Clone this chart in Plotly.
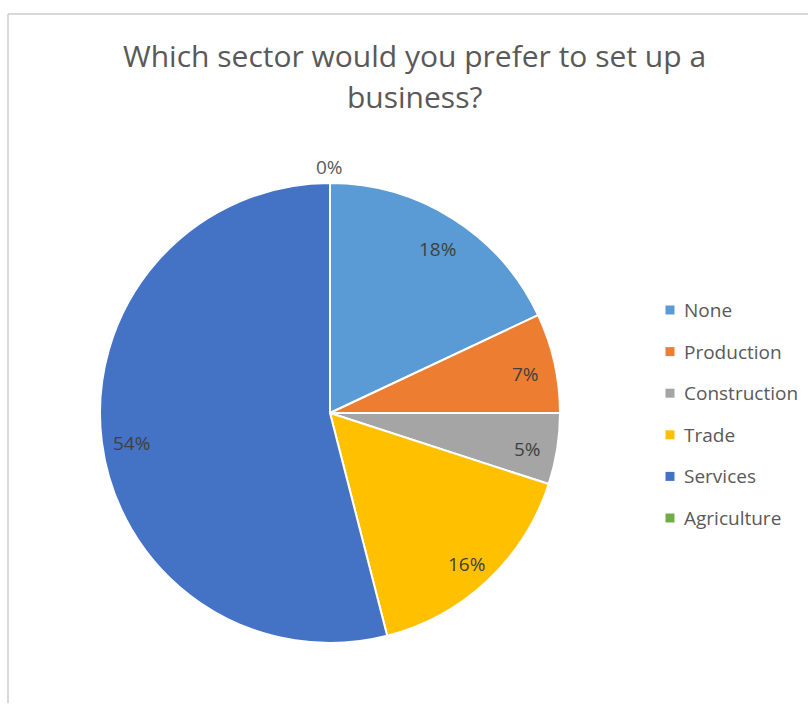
import math
import plotly.graph_objects as go

# Survey answers: preferred sector for starting a business (share in %)
sectors = ["None", "Production", "Construction", "Trade", "Services", "Agriculture"]
shares = [18, 7, 5, 16, 54, 0]
colors = ["#5B9BD5", "#ED7D31", "#A5A5A5", "#FFC000", "#4472C4", "#70AD47"]
title_lines = ["Which sector would you prefer to set up a", "business?"]

W, H = 808, 705
FONT = "Open Sans"
TEXT_GREY = "#595959"
LABEL_GREY = "#404040"

# pie geometry in pixels
cx_px, cy_px, r_px = 330, 413, 230

fig = go.Figure(
    go.Pie(
        labels=sectors,
        values=shares,
        sort=False,
        direction="clockwise",
        rotation=0,
        marker=dict(colors=colors, line=dict(color="white", width=2)),
        textinfo="none",
        hoverinfo="label+percent",
        showlegend=False,
        domain=dict(
            x=[(cx_px - r_px) / W, (cx_px + r_px) / W],
            y=[(H - cy_px - r_px) / H, (H - cy_px + r_px) / H],
        ),
    )
)

annotations = []

# percentage labels placed along each slice bisector, near the outer edge
total = sum(shares)
cum = 0.0
for name, v in zip(sectors, shares):
    frac = v / total
    mid = (cum + frac / 2) * 2 * math.pi
    cum += frac
    rr = r_px * 0.87 if v > 0 else r_px + 16
    x = cx_px + rr * math.sin(mid)
    y = cy_px - rr * math.cos(mid)
    annotations.append(dict(
        x=x / W, y=1 - y / H, xref="paper", yref="paper",
        text=f"{round(frac * 100)}%", showarrow=False,
        yshift=-5 if v > 0 else 0,
        font=dict(family=FONT, size=19, color=LABEL_GREY if v > 0 else TEXT_GREY),
        xanchor="center", yanchor="middle",
    ))

# two-line chart title
for i, line in enumerate(title_lines):
    annotations.append(dict(
        x=414 / W, y=1 - (55 + 42 * i) / H, xref="paper", yref="paper",
        text=line, showarrow=False,
        font=dict(family=FONT, size=30, color=TEXT_GREY),
        xanchor="center", yanchor="middle",
    ))

# legend: square swatches with labels on the right
shapes = []
leg_x, leg_y0, leg_step = 670, 310, 41.6
for i, (name, c) in enumerate(zip(sectors, colors)):
    yy = leg_y0 + i * leg_step
    shapes.append(dict(
        type="rect", xref="paper", yref="paper",
        x0=(leg_x - 4.5) / W, x1=(leg_x + 4.5) / W,
        y0=1 - (yy + 4.5) / H, y1=1 - (yy - 4.5) / H,
        fillcolor=c, line=dict(width=0),
    ))
    annotations.append(dict(
        x=(leg_x + 12) / W, y=1 - yy / H, xref="paper", yref="paper",
        text=name, showarrow=False,
        font=dict(family=FONT, size=19, color=TEXT_GREY),
        xanchor="left", yanchor="middle",
    ))

# light chart-area frame (top and left edges)
shapes.append(dict(type="line", xref="paper", yref="paper",
                   x0=8 / W, x1=1, y0=1 - 14 / H, y1=1 - 14 / H,
                   line=dict(color="#D9D9D9", width=2)))
shapes.append(dict(type="line", xref="paper", yref="paper",
                   x0=8 / W, x1=8 / W, y0=1 - 14 / H, y1=1 - 703 / H,
                   line=dict(color="#D9D9D9", width=2)))

fig.update_layout(
    width=W, height=H,
    margin=dict(l=0, r=0, t=0, b=0),
    paper_bgcolor="white",
    plot_bgcolor="white",
    annotations=annotations,
    shapes=shapes,
    font=dict(family=FONT),
)

fig.write_html("out.html")
